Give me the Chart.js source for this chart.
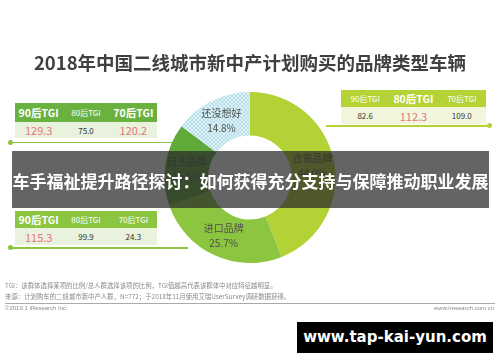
<!DOCTYPE html>
<html><head><meta charset="utf-8">
<script src="https://cdn.jsdelivr.net/npm/chart.js@4"></script>
<style>
html,body{margin:0;padding:0;background:#fff;}
#wrap{position:relative;width:500px;height:362px;overflow:hidden;font-family:"Noto Sans CJK SC","Noto Sans",sans-serif;}
canvas{position:absolute;left:0;top:0;}
.abs{position:absolute;}
.title{left:0;width:500px;top:49px;text-align:center;font-size:18.5px;font-weight:bold;color:#404040;line-height:26px;}
table.tgi{position:absolute;border-collapse:collapse;table-layout:fixed;}
table.tgi td{text-align:center;padding:0;font-family:"Noto Sans CJK SC",sans-serif;}
.hd td{color:#fff;}
.big{font-size:10.5px;font-weight:bold;}
.sm{font-size:8px;}
.pink{color:#e8727e;font-size:11px;}
.dk{color:#333;font-size:8px;}
.line{position:absolute;height:1.5px;}
.dot{position:absolute;width:5px;height:5px;border-radius:50%;}
.banner{left:12px;top:151px;width:477px;height:57px;background:rgba(40,40,40,0.72);color:#fff;font-weight:bold;font-size:17px;line-height:59px;text-align:center;white-space:nowrap;}
.foot{left:5px;font-size:6.4px;color:#8a8a8a;white-space:nowrap;}
.wm{left:297px;top:322px;width:196px;height:31px;background:#000;color:#fff;font-family:"DejaVu Sans",sans-serif;font-weight:bold;font-size:15px;line-height:31px;text-align:center;}
</style></head><body>
<div id="wrap">
<canvas id="c" width="500" height="362"></canvas>
<div class="abs title">2018年中国二线城市新中产计划购买的品牌类型车辆</div>
<div id="overlay"></div>
<div class="abs banner">车手福祉提升路径探讨：如何获得充分支持与保障推动职业发展</div>
<div class="abs foot" style="top:281px">TGI：该群体选择某项的比例/总人群选择该项的比例，TGI值越高代表该群体中对应特征越明显。</div>
<div class="abs foot" style="top:292px">来源：计划购车的二线城市新中产人群，N=772；于2018年11月使用艾瑞UserSurvey调研数据获得。</div>
<div class="abs" style="left:5px;top:303px;width:490px;height:1px;background:#aaa"></div>
<div class="abs foot" style="top:305px;font-family:'Liberation Sans',sans-serif;font-size:6px">©2019.1 iResearch Inc.</div>
<div class="abs foot" style="top:305px;left:auto;right:6px;font-family:'Liberation Sans',sans-serif;font-size:6px">www.iresearch.com.cn</div>
<div class="abs wm">www.tap-kai-yun.com</div>
</div>
<script>
const categories = ['合资品牌', '进口品牌', '自主品牌', '还没想好'];
const shares = [44.0, 25.7, 15.6, 14.8];
const tgiHeaders = ['90后TGI', '80后TGI', '70后TGI'];
const tgiJoint = [82.6, 112.3, 109.0];
const tgiDomestic = [129.3, 75.0, 120.2];
const tgiImport = [115.3, 99.9, 24.3];
const segColors = ['#b3d235', '#8cc540', '#5faa39', null];

// hatched pattern for "还没想好"
function makePattern(){
  const p = document.createElement('canvas'); p.width = 4; p.height = 4;
  const g = p.getContext('2d');
  g.fillStyle = '#e2f3f7'; g.fillRect(0,0,4,4);
  g.fillStyle = '#b4dfea';
  g.fillRect(0,0,1,1); g.fillRect(1,1,1,1); g.fillRect(2,2,1,1); g.fillRect(3,3,1,1);
  g.fillRect(3,0,1,1); g.fillRect(2,1,1,1); g.fillRect(1,2,1,1); g.fillRect(0,3,1,1);
  return document.getElementById('c').getContext('2d').createPattern(p,'repeat');
}
segColors[3] = makePattern();

const labelPlugin = {
  id:'segLabels',
  afterDatasetsDraw(chart){
    const ctx = chart.ctx;
    const meta = chart.getDatasetMeta(0);
    ctx.save();
    ctx.fillStyle = '#505050';
    ctx.textAlign = 'center'; ctx.textBaseline = 'middle';
    ctx.font = '10px "Noto Sans CJK SC", sans-serif';
    meta.data.forEach((arc, i) => {
      const mid = (arc.startAngle + arc.endAngle) / 2;
      const r = (arc.innerRadius + arc.outerRadius) / 2;
      const x = arc.x + Math.cos(mid) * r;
      const y = arc.y + Math.sin(mid) * r;
      ctx.fillText(categories[i], x, y - 7);
      ctx.fillText(shares[i].toFixed(1) + '%', x, y + 8);
    });
    ctx.restore();
  }
};

new Chart(document.getElementById('c'), {
  type: 'doughnut',
  data: { labels: categories, datasets: [{ data: shares, backgroundColor: segColors, borderWidth: 0 }] },
  options: {
    responsive: false, animation: false,
    cutout: '49%',
    layout: { padding: { top: 92, bottom: 99, left: 0, right: 0 } },
    plugins: { legend: { display: false }, tooltip: { enabled: false } }
  },
  plugins: [labelPlugin]
});

// TGI tables
function tgiTable(left, top, w, hh, dh, hdColor, bodyColor, vals, bigIdx){
  const t = document.createElement('table');
  t.className = 'tgi';
  t.style.left = left + 'px'; t.style.top = top + 'px'; t.style.width = w + 'px';
  const hr = document.createElement('tr'); hr.className = 'hd';
  hr.style.height = hh + 'px'; hr.style.background = hdColor;
  const dr = document.createElement('tr');
  dr.style.height = dh + 'px'; dr.style.background = bodyColor;
  tgiHeaders.forEach((h, i) => {
    const td = document.createElement('td'); td.textContent = h;
    td.className = bigIdx.includes(i) ? 'big' : 'sm'; hr.appendChild(td);
    const vd = document.createElement('td'); vd.textContent = vals[i].toFixed(1);
    vd.className = bigIdx.includes(i) ? 'pink' : 'dk'; dr.appendChild(vd);
  });
  t.appendChild(hr); t.appendChild(dr);
  document.getElementById('overlay').appendChild(t);
}
function line(x1, x2, y, color, dotX){
  const l = document.createElement('div'); l.className = 'line';
  l.style.left = x1 + 'px'; l.style.width = (x2 - x1) + 'px'; l.style.top = y + 'px'; l.style.background = color;
  document.getElementById('overlay').appendChild(l);
  const d = document.createElement('div'); d.className = 'dot';
  d.style.left = (dotX - 2.5) + 'px'; d.style.top = (y - 1.75) + 'px'; d.style.background = color;
  document.getElementById('overlay').appendChild(d);
}
tgiTable(15, 103, 142, 19, 15, '#6ab23f', '#e8f2dc', tgiDomestic, [0, 2]);
tgiTable(341, 90, 145, 17, 17, '#b5d334', '#f1f6dc', tgiJoint, [1]);
tgiTable(15, 211, 142, 17, 17, '#8cc540', '#e8f2dc', tgiImport, [0]);
line(10, 172, 141.5, '#8cc540', 10);
line(326, 489, 125, '#b5d334', 489);
line(10, 188, 247, '#8cc540', 10);
</script>
</body></html>
